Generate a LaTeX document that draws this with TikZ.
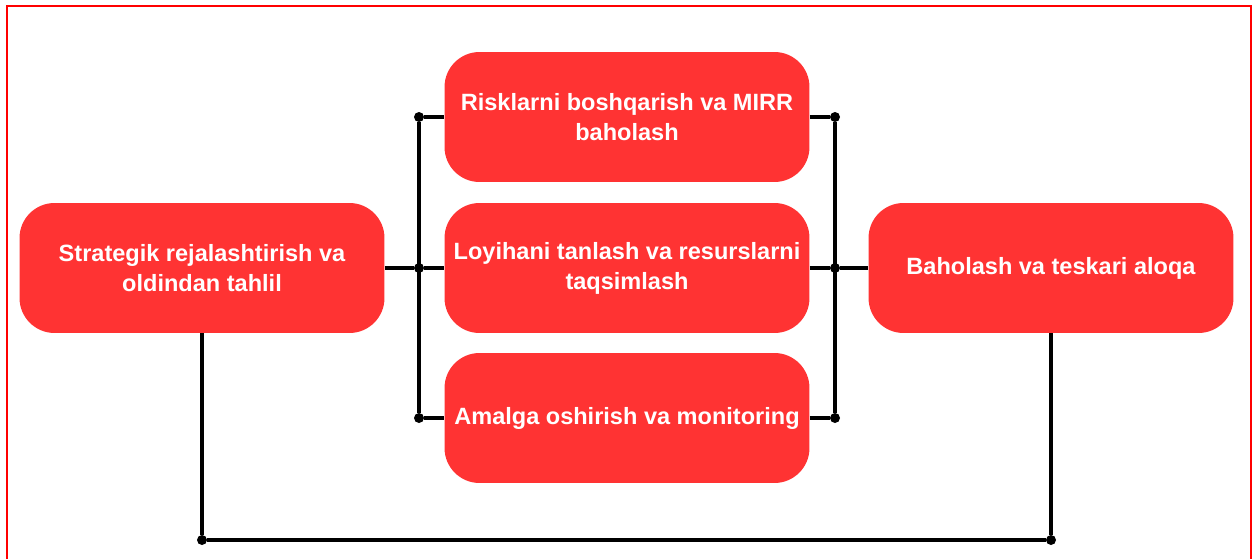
\documentclass[tikz,border=0pt]{standalone}
\usepackage{fontspec}
\setmainfont{Liberation Sans}
\usepackage{tikz}

\definecolor{boxred}{RGB}{255,51,51}

\begin{document}
\begin{tikzpicture}[x=0.02cm,y=-0.02cm]
      \tikzstyle{bloc}=[draw=none, fill=boxred, rounded corners=0.7cm, minimum width=7.3cm, minimum height=2.6cm, align=center, text=white, font=\bfseries\fontsize{13.4}{17}\selectfont]
      \tikzstyle{lien}=[line width=2.2pt, black]
      \tikzstyle{point}=[circle, fill=black, inner sep=0pt, minimum size=0.2cm]

      \useasboundingbox (0,0) rectangle (1254,558);
      \draw[red, line width=1.2pt] (7,570) -- (7,6) -- (1251,6) -- (1251,570);

      \node[bloc] (Strat) at (202,268) {Strategik rejalashtirish va\\oldindan tahlil};
      \node[bloc] (Risk) at (627,117) {Risklarni boshqarish va MIRR\\baholash};
      \node[bloc] (Loyi) at (627,268) {Loyihani tanlash va resurslarni\\taqsimlash};
      \node[bloc] (Amal) at (627,418) {Amalga oshirish va monitoring};
      \node[bloc] (Baho) at (1051,268) {Baholash va teskari aloqa};

      \node[point] (G1) at (419,117) {};
      \node[point] (G2) at (419,268) {};
      \node[point] (G3) at (419,418) {};
      \node[point] (D1) at (835,117) {};
      \node[point] (D2) at (835,268) {};
      \node[point] (D3) at (835,418) {};
      \node[point] (B1) at (202,540) {};
      \node[point] (B2) at (1051,540) {};

      \draw[lien] (Strat.east)--(G2);
      \draw[lien] (G1)--(G3);
      \draw[lien] (G1)--(Risk.west);
      \draw[lien] (G2)--(Loyi.west);
      \draw[lien] (G3)--(Amal.west);
      \draw[lien] (D1)--(D3);
      \draw[lien] (Risk.east)--(D1);
      \draw[lien] (Loyi.east)--(D2);
      \draw[lien] (Amal.east)--(D3);
      \draw[lien] (D2)--(Baho.west);
      \draw[lien] (Strat.south)--(B1)--(B2)--(Baho.south);

    \end{tikzpicture}
\end{document}
